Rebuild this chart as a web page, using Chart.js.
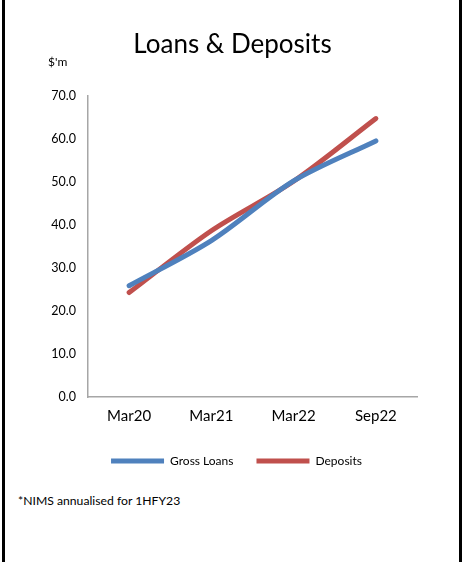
<!DOCTYPE html>
<html>
<head>
<meta charset="utf-8">
<script src="https://cdn.jsdelivr.net/npm/chart.js@4/dist/chart.umd.min.js"></script>
<style>
  html, body { margin: 0; padding: 0; background: #fff; }
  body { width: 462px; height: 562px; position: relative; overflow: hidden; font-family: Lato, "Open Sans", sans-serif; }
  #wrap { position: absolute; left: 0; top: 0; width: 462px; height: 480px; }
  .bar { position: absolute; top: 0; width: 3px; height: 562px; background: #000; }
  #unit { position: absolute; left: 48px; top: 54px; font-size: 12px; color: #000; }
  #note { position: absolute; left: 18px; top: 493px; font-size: 12.2px; color: #000; white-space: nowrap; }
</style>
</head>
<body>
<div class="bar" style="left:2px"></div>
<div class="bar" style="left:459px"></div>
<div id="wrap"><canvas id="c"></canvas></div>
<div id="unit">$'m</div>
<div id="note">*NIMS annualised for 1HFY23</div>
<script>
const categories = ["Mar20", "Mar21", "Mar22", "Sep22"];
const grossLoans = [25.9, 36.4, 50.3, 59.6];
const deposits = [24.3, 38.7, 50.2, 64.8];
const yTicks = [0, 10, 20, 30, 40, 50, 60, 70];

const FONT = "Lato, 'Open Sans', sans-serif";

const legendShift = {
  id: 'legendShift',
  afterLayout(chart) {
    const l = chart.legend;
    if (!l) return;
    l.left += 4; l.right += 4;
    l.top -= 3; l.bottom -= 3;
  }
};

new Chart(document.getElementById('c'), {
  type: 'line',
  data: {
    labels: categories,
    datasets: [
      { label: 'Gross Loans', data: grossLoans, borderColor: '#4F81BD', backgroundColor: '#4F81BD',
        borderWidth: 5, pointRadius: 0, tension: 0.3, borderCapStyle: 'round', borderJoinStyle: 'round' },
      { label: 'Deposits', data: deposits, borderColor: '#C0504D', backgroundColor: '#C0504D',
        borderWidth: 5, pointRadius: 0, tension: 0.3, borderCapStyle: 'round', borderJoinStyle: 'round' }
    ]
  },
  plugins: [legendShift],
  options: {
    responsive: true,
    maintainAspectRatio: false,
    animation: false,
    layout: { padding: { left: 48, right: 45, top: 5, bottom: 0 } },
    plugins: {
      title: { display: true, text: 'Loans & Deposits', color: '#000',
        font: { family: FONT, size: 26, weight: 'normal' }, padding: { top: 24, bottom: 36 } },
      legend: { position: 'bottom',
        labels: { usePointStyle: true, pointStyle: 'line', pointStyleWidth: 53, color: '#000',
          font: { family: FONT, size: 12 }, padding: 23 } },
      tooltip: { enabled: false }
    },
    scales: {
      x: {
        offset: true,
        grid: { display: false, drawTicks: false },
        border: { display: true, color: '#a6a6a6', width: 1.5 },
        ticks: { color: '#000', font: { family: FONT, size: 15 }, padding: 10, maxRotation: 0 }
      },
      y: {
        min: 0, max: 70,
        afterFit: s => { s.width = 40; },
        afterBuildTicks: s => { s.ticks = yTicks.map(v => ({ value: v })); },
        grid: { display: false, drawTicks: false },
        border: { display: true, color: '#a6a6a6', width: 1.5 },
        ticks: { color: '#000', font: { family: FONT, size: 12.5 }, padding: 12,
          callback: v => Number(v).toFixed(1) }
      }
    }
  }
});
</script>
</body>
</html>
